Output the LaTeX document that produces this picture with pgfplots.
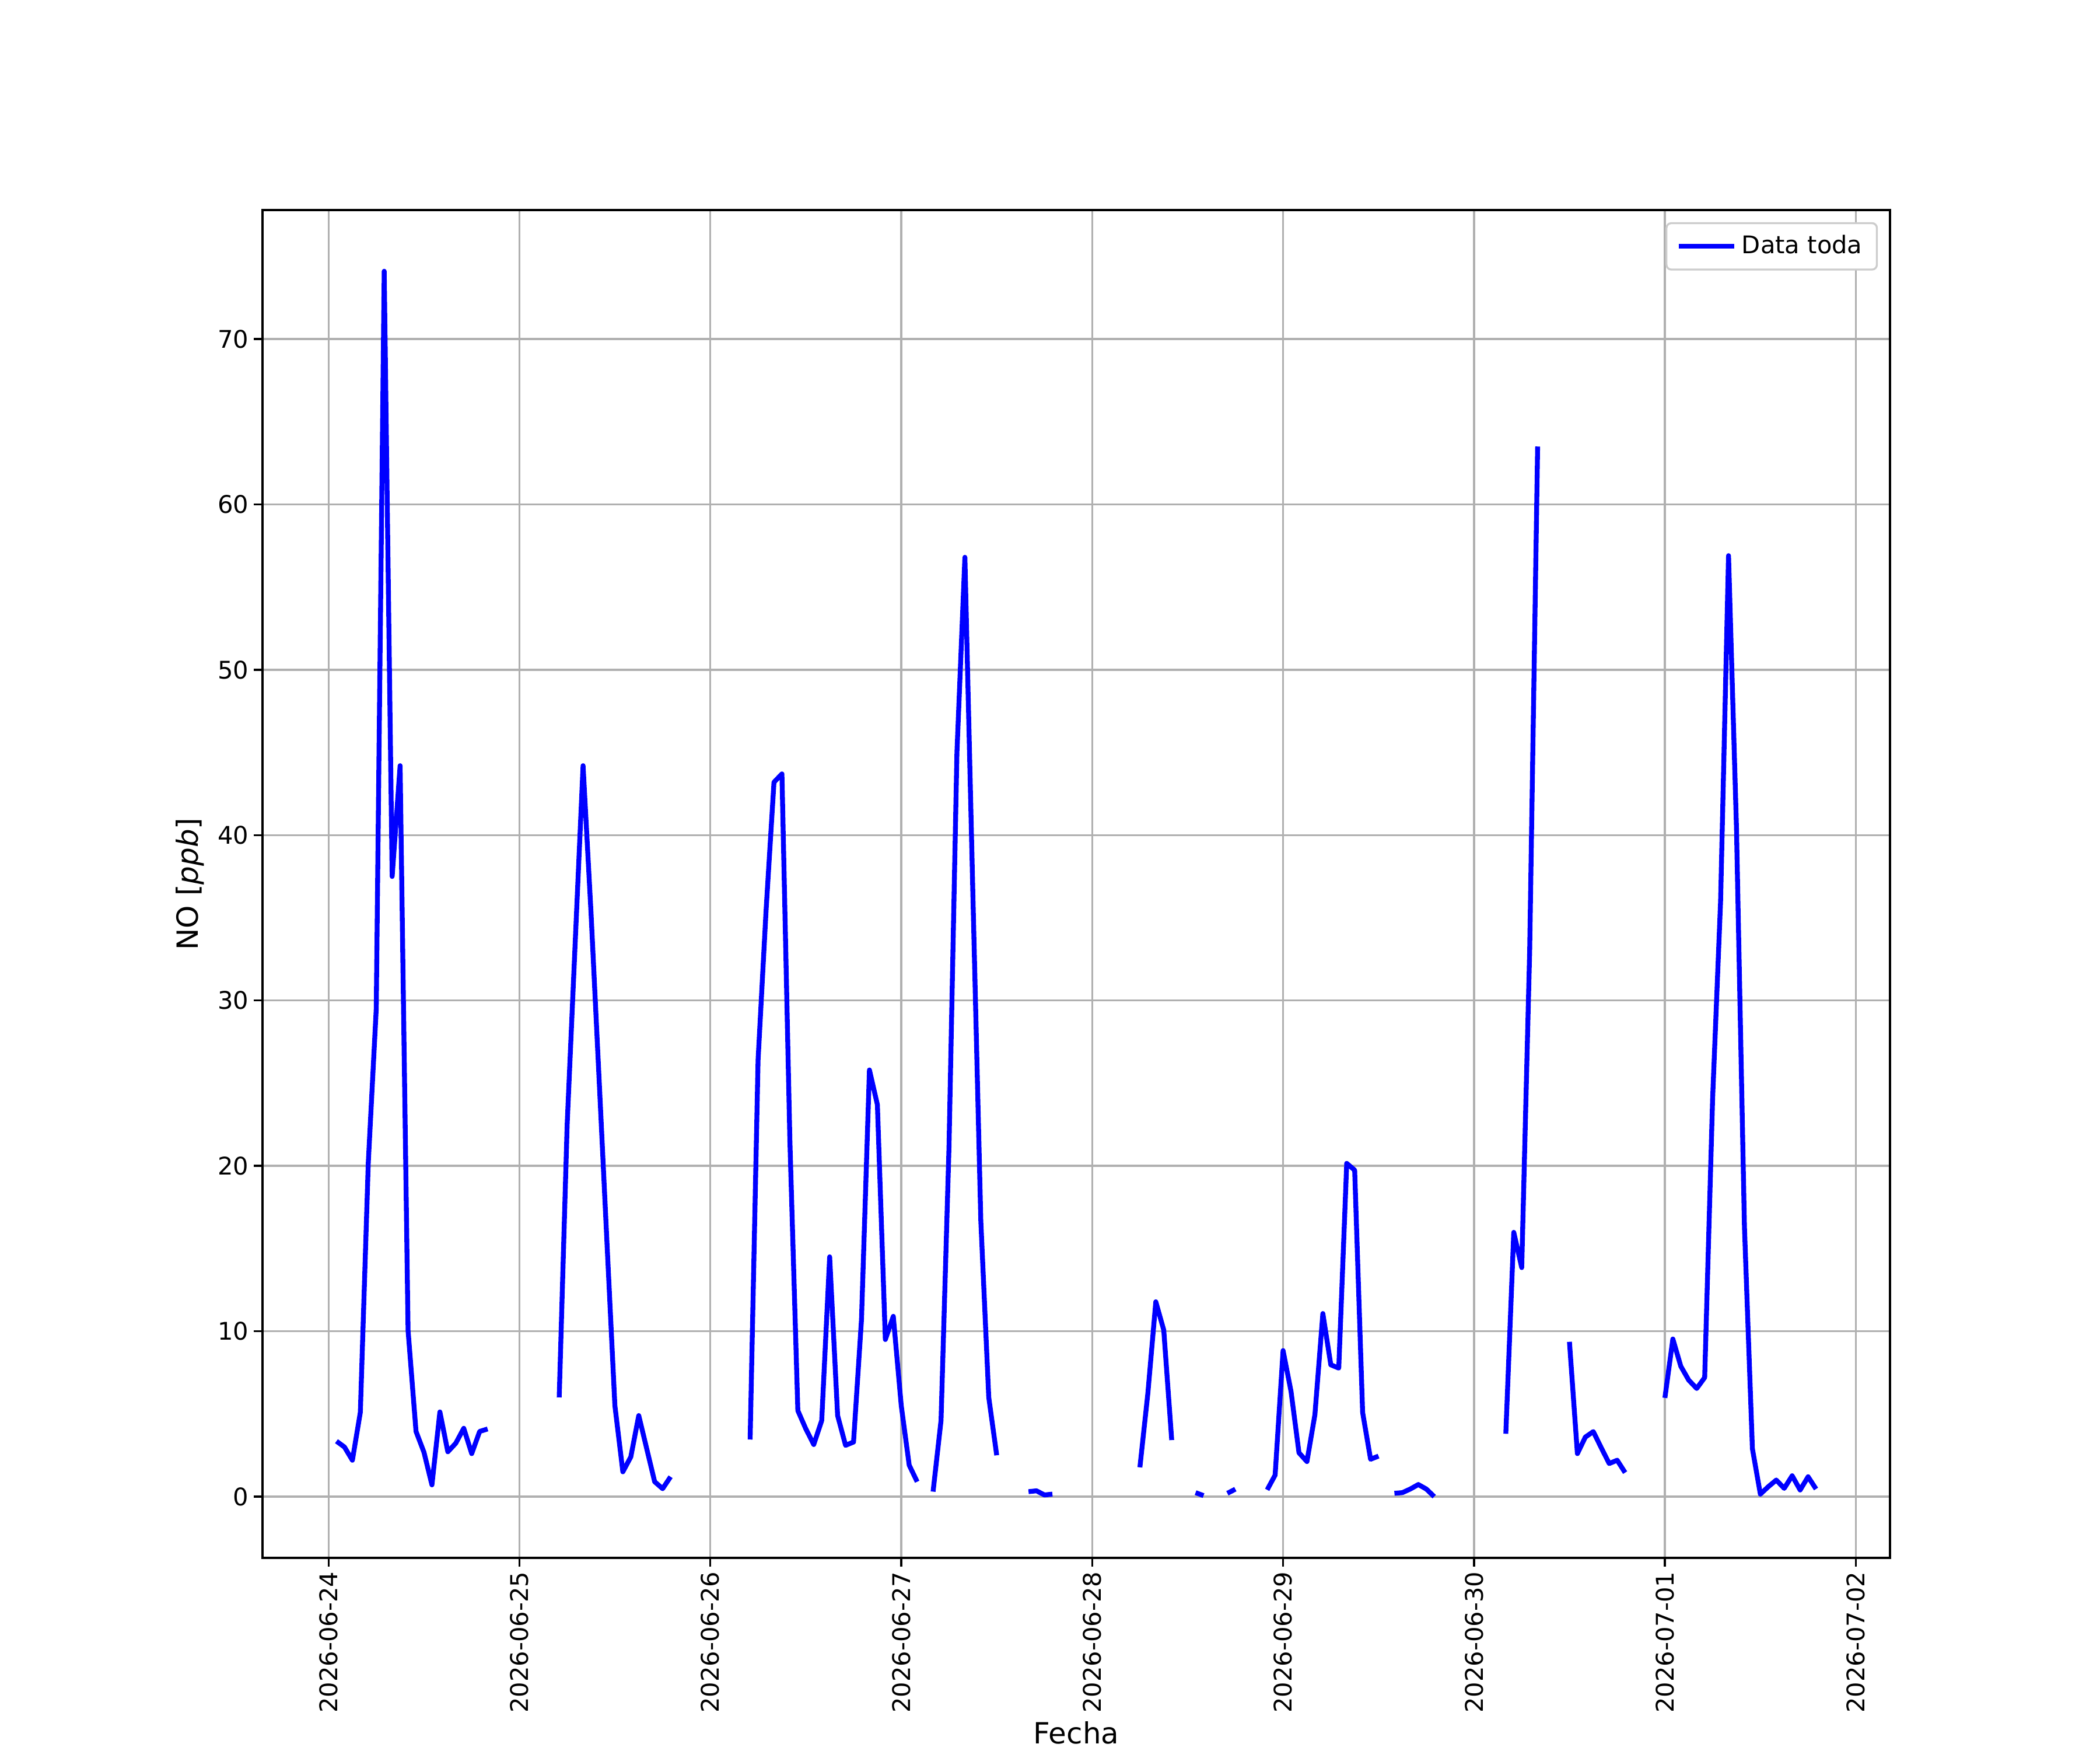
\documentclass[border=0pt]{standalone}
\usepackage{fontspec}
\setmainfont{DejaVu Sans}
\usepackage{pgfplots}
\usepackage{pgfplotstable}
\pgfplotsset{compat=1.18}

\definecolor{gridgray}{HTML}{B0B0B0}
\definecolor{legframe}{HTML}{CCCCCC}

% hours since 2026-06-24 00:00; nan = gap in the record
\pgfplotstableread{
x y
1 3.35
2 3.0
3 2.2
4 5.1
5 20.2
6 29.5
7 74.1
8 37.5
9 44.2
10 10.05
11 3.94
12 2.68
13 0.71
14 5.12
15 2.71
16 3.23
17 4.13
18 2.6
19 3.94
20 4.09
21 nan
29 6.0
30 22.5
31 33.4
32 44.2
33 35.3
34 25.4
35 15.4
36 5.5
37 1.5
38 2.4
39 4.9
40 2.9
41 0.9
42 0.48
43 1.2
44 nan
53 3.45
54 26.4
55 35.4
56 43.2
57 43.7
58 21.5
59 5.2
60 4.1
61 3.15
62 4.6
63 14.5
64 4.9
65 3.1
66 3.3
67 10.7
68 25.8
69 23.7
70 9.5
71 10.9
72 5.5
73 1.9
74 0.9
75 nan
76 0.3
77 4.6
78 21.1
79 45.0
80 56.8
81 36.5
82 16.7
83 6.0
84 2.5
85 nan
88 0.3
89 0.35
90 0.1
91 0.15
92 nan
102 1.77
103 6.24
104 11.78
105 10.07
106 3.42
107 nan
109 0.24
110 0.06
111 nan
113 0.2
114 0.45
115 nan
118 0.41
119 1.3
120 8.83
121 6.36
122 2.65
123 2.12
124 4.95
125 11.07
126 7.97
127 7.77
128 20.15
129 19.74
130 5.09
131 2.26
132 2.45
133 nan
134 0.2
135 0.24
136 0.46
137 0.73
138 0.46
139 0.0
140 nan
148 3.8
149 15.98
150 13.85
151 33.0
152 63.5
153 nan
156 9.36
157 2.6
158 3.6
159 3.93
160 2.95
161 2.0
162 2.2
163 1.45
164 nan
168 5.97
169 9.53
170 7.88
171 7.04
172 6.54
173 7.2
174 24.1
175 36.0
176 56.9
177 40.4
178 16.3
179 2.9
180 0.15
181 0.6
182 1.0
183 0.5
184 1.26
185 0.4
186 1.2
187 0.46
}\notable

\begin{document}
\begin{tikzpicture}
  \useasboundingbox (-108pt,-79.2pt) rectangle (756pt,640.8pt);
  \begin{axis}[
    at={(0,0)}, anchor=south west,
    scale only axis,
    width=669.6pt, height=554.4pt,
    xmin=-8.3, xmax=196.3,
    ymin=-3.705, ymax=77.8,
    xtick={0,24,48,72,96,120,144,168,192},
    xticklabels={2026-06-24,2026-06-25,2026-06-26,2026-06-27,2026-06-28,2026-06-29,2026-06-30,2026-07-01,2026-07-02},
    ytick={0,10,20,30,40,50,60,70},
    xticklabel style={rotate=90, anchor=east, inner sep=2pt},
    yticklabel style={inner sep=2pt},
    /pgf/number format/assume math mode=true,
    tick align=outside, tick pos=left,
    major tick length=3.5pt,
    every tick/.style={black, line width=0.8pt},
    axis line style={line width=0.8pt},
    grid=major,
    major grid style={gridgray, line width=0.8pt},
    xlabel={Fecha},
    ylabel={NO [\textit{ppb}]},
    label style={font=\large},
    xlabel style={yshift=2pt},
    unbounded coords=jump,
    legend style={at={(1,1)}, anchor=north east, xshift=-5pt, yshift=-5pt,
      draw=legframe, line width=0.8pt, rounded corners=2pt,
      inner xsep=4pt, inner ysep=3pt, font=\normalsize},
    legend cell align=left,
    legend image code/.code={\draw[#1] (-2pt,0pt) -- (21pt,0pt);},
  ]
    \addplot[blue, line width=2pt, line join=round] table[x=x, y=y] {\notable};
    \addlegendentry{Data toda}
  \end{axis}
\end{tikzpicture}
\end{document}
